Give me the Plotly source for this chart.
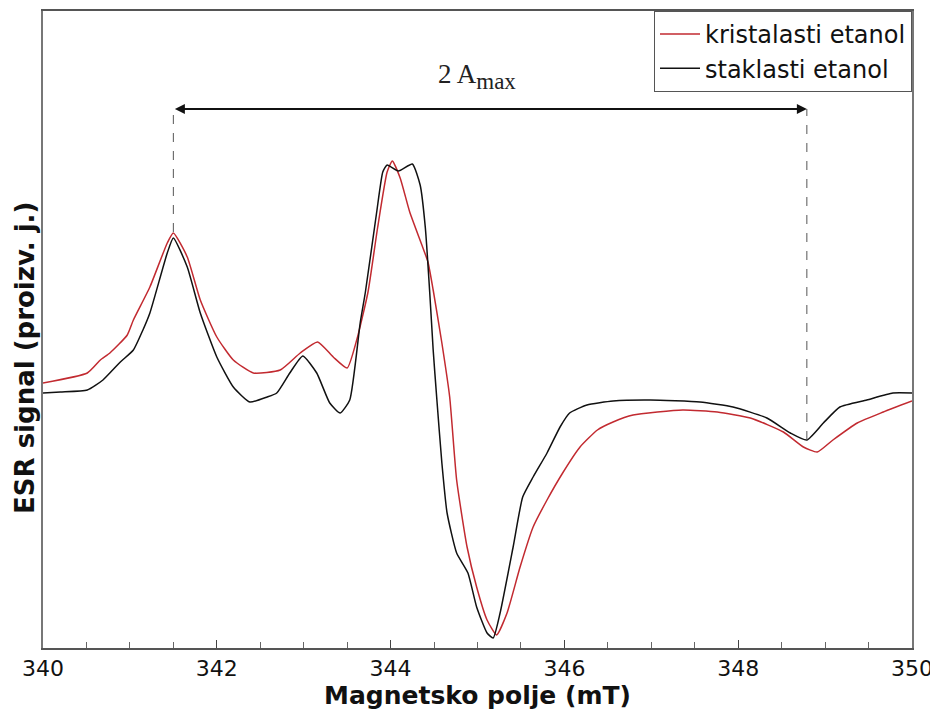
import plotly.graph_objects as go

# Magnetic field (mT) and ESR signal (arb. units)
field_staklasti = [340.00, 340.20, 340.51, 340.69, 340.89, 341.04, 341.15, 341.23, 341.43, 341.50,
                   341.66, 341.81, 342.00, 342.19, 342.38, 342.58, 342.69, 342.84, 342.99, 343.15,
                   343.30, 343.42, 343.53, 343.65, 343.71, 343.84, 343.91, 343.96, 344.09, 344.25,
                   344.34, 344.40, 344.45, 344.49, 344.53, 344.59, 344.65, 344.76, 344.89, 344.99,
                   345.11, 345.18, 345.26, 345.41, 345.52, 345.64, 345.80, 345.95, 346.06, 346.26,
                   346.56, 346.99, 347.56, 347.94, 348.33, 348.60, 348.79, 348.98, 349.17, 349.48,
                   349.78, 350.00]
signal_staklasti = [0.07, 0.08, 0.10, 0.20, 0.38, 0.50, 0.70, 0.87, 1.47, 1.62,
                    1.33, 0.87, 0.43, 0.13, -0.02, 0.03, 0.07, 0.27, 0.44, 0.27,
                    -0.03, -0.13, 0.00, 0.77, 1.08, 1.88, 2.28, 2.35, 2.29, 2.36,
                    2.15, 1.72, 1.08, 0.50, 0.03, -0.63, -1.13, -1.53, -1.73, -2.07,
                    -2.33, -2.38, -2.13, -1.47, -0.97, -0.77, -0.53, -0.27, -0.13, -0.05,
                    -0.01, 0.00, -0.02, -0.07, -0.18, -0.33, -0.40, -0.23, -0.07, 0.00,
                    0.07, 0.07]

field_kristalasti = [340.00, 340.51, 340.66, 340.77, 340.97, 341.04, 341.23, 341.43, 341.50, 341.66,
                     341.81, 342.00, 342.19, 342.42, 342.73, 342.96, 343.16, 343.34, 343.50, 343.61,
                     343.74, 343.85, 343.96, 344.02, 344.11, 344.22, 344.36, 344.43, 344.49, 344.59,
                     344.68, 344.76, 344.88, 344.99, 345.11, 345.22, 345.34, 345.49, 345.64, 345.80,
                     345.98, 346.18, 346.38, 346.56, 346.79, 347.36, 347.76, 348.14, 348.52, 348.75,
                     348.91, 349.09, 349.37, 349.67, 350.00]
signal_kristalasti = [0.17, 0.27, 0.40, 0.47, 0.65, 0.80, 1.13, 1.57, 1.67, 1.43,
                      1.00, 0.63, 0.40, 0.27, 0.30, 0.47, 0.58, 0.43, 0.32, 0.60,
                      1.08, 1.72, 2.28, 2.39, 2.22, 1.88, 1.55, 1.38, 1.10, 0.57,
                      0.03, -0.80, -1.47, -1.87, -2.20, -2.35, -2.13, -1.67, -1.27, -1.00,
                      -0.73, -0.47, -0.30, -0.22, -0.15, -0.10, -0.12, -0.18, -0.32, -0.47,
                      -0.52, -0.40, -0.23, -0.12, -0.01]

x_ticks = [340, 342, 344, 346, 348, 350]

# 2 A_max marker positions
amax_left = 341.50
amax_right = 348.79
amax_level = 2.91
amax_left_bottom = 1.68
amax_right_bottom = -0.40

fig = go.Figure()
fig.add_trace(go.Scatter(x=field_kristalasti, y=signal_kristalasti, mode="lines",
                         name="kristalasti etanol",
                         line=dict(color="#c22a30", width=1.5, shape="spline", smoothing=0.5)))
fig.add_trace(go.Scatter(x=field_staklasti, y=signal_staklasti, mode="lines",
                         name="staklasti etanol",
                         line=dict(color="#111111", width=1.5, shape="spline", smoothing=0.5)))

# dashed guide lines
fig.add_trace(go.Scatter(x=[amax_left, amax_left], y=[amax_left_bottom, amax_level], mode="lines",
                         line=dict(color="#555555", width=1, dash="dash"), showlegend=False,
                         hoverinfo="skip"))
fig.add_trace(go.Scatter(x=[amax_right, amax_right], y=[amax_right_bottom, amax_level], mode="lines",
                         line=dict(color="#555555", width=1, dash="dash"), showlegend=False,
                         hoverinfo="skip"))

# double-headed arrow
fig.add_annotation(x=amax_right, y=amax_level, ax=amax_left, ay=amax_level,
                   xref="x", yref="y", axref="x", ayref="y",
                   showarrow=True, arrowhead=2, arrowsize=1, arrowwidth=2,
                   arrowside="end+start", arrowcolor="#111111", text="")
fig.add_annotation(x=(amax_left + amax_right) / 2 - 0.15, y=amax_level, yshift=33,
                   xref="x", yref="y", showarrow=False,
                   text="2 A<sub><span style='font-size:23px'>max</span></sub>",
                   font=dict(family="Liberation Serif, DejaVu Serif, serif", size=27, color="#222222"))

# y-axis title (placed as rotated text, slightly below the plot centre as in the reference)
fig.add_annotation(x=-0.021, y=0.455, xref="paper", yref="paper", showarrow=False,
                   xanchor="center", yanchor="middle", textangle=-90,
                   text="<b>ESR signal (proizv. j.)</b>",
                   font=dict(size=26, family="DejaVu Sans, sans-serif", color="#111111"))

fig.update_layout(
    width=930, height=714,
    margin=dict(l=35, r=26, t=3, b=74, autoexpand=False),
    paper_bgcolor="white", plot_bgcolor="white",
    font=dict(family="DejaVu Sans, sans-serif", color="#111111"),
    legend=dict(x=1, y=1, xanchor="right", yanchor="top",
                bordercolor="#555555", borderwidth=1, bgcolor="white",
                font=dict(size=24, family="DejaVu Sans, sans-serif"),
                tracegroupgap=0, itemwidth=40),
    showlegend=True,
)
fig.update_xaxes(range=[340, 350], tickvals=x_ticks, ticktext=[str(v) for v in x_ticks],
                 ticks="inside", ticklen=8, tickcolor="#444444",
                 minor=dict(dtick=0.5, ticks="inside", ticklen=6, tickcolor="#666666"),
                 showline=True, linecolor="#555555", linewidth=1.5, mirror=True,
                 showgrid=False, zeroline=False, automargin=False,
                 tickfont=dict(size=22, family="DejaVu Sans, sans-serif"),
                 title=dict(text="<b>Magnetsko polje (mT)</b>", standoff=6,
                            font=dict(size=25, family="DejaVu Sans, sans-serif")))
fig.update_yaxes(range=[-2.48, 3.89], showticklabels=False, ticks="",
                 showline=True, linecolor="#777777", linewidth=1.5, mirror=True,
                 showgrid=False, zeroline=False, automargin=False)

fig.write_html("out.html")
